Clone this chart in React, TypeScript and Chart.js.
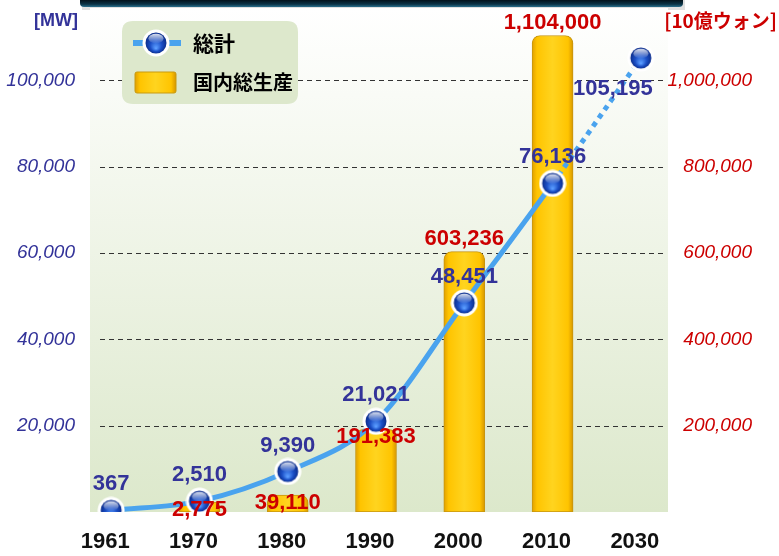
import React, { useEffect, useRef } from 'react';
import { Chart, registerables } from 'chart.js';

Chart.register(...registerables);

// ---- data ----
const years = ['1961', '1970', '1980', '1990', '2000', '2010', '2030'];
const capacityMW = [367, 2510, 9390, 21021, 48451, 76136, 105195];
const gdpBillionWon: (number | null)[] = [null, 2775, 39110, 191383, 603236, 1104000, null];
const leftTicks = [20000, 40000, 60000, 80000, 100000];
const rightTicks = [200000, 400000, 600000, 800000, 1000000];
const seriesNames = ['総計', '国内総生産'];
const unitLeft = '[MW]';
const unitRight = '[10億ウォン]';

// label placement (style only)
const lineLabelPlace = ['above', 'above', 'above', 'above', 'above', 'above', 'belowLeft'];
const barLabelPlace = ['none', 'inside', 'inside', 'inside', 'above', 'above', 'none'];

const BLUE_TXT = '#333399';
const RED_TXT = '#cc0000';
const LINE_COLOR = '#4aa3ee';
const LATIN = '"Liberation Sans", Arial, sans-serif';
const CJK = '"Noto Sans CJK JP", "Noto Sans", sans-serif';

function makeSphere(): HTMLCanvasElement {
  const size = 28;
  const R = 13.5;
  const c = document.createElement('canvas');
  c.width = size;
  c.height = size;
  const g = c.getContext('2d')!;
  const cx = size / 2, cy = size / 2;
  g.beginPath();
  g.arc(cx, cy, R, 0, Math.PI * 2);
  g.fillStyle = '#ffffff';
  g.fill();
  const r = R - 3;
  const rg = g.createRadialGradient(cx, cy + r * 0.5, r * 0.05, cx, cy, r * 1.05);
  rg.addColorStop(0, '#5a9cff');
  rg.addColorStop(0.5, '#1b4fc6');
  rg.addColorStop(1, '#0a2a86');
  g.beginPath();
  g.arc(cx, cy, r, 0, Math.PI * 2);
  g.fillStyle = rg;
  g.fill();
  const lg = g.createLinearGradient(0, cy - r, 0, cy);
  lg.addColorStop(0, 'rgba(255,255,255,0.95)');
  lg.addColorStop(1, 'rgba(255,255,255,0.05)');
  g.beginPath();
  g.ellipse(cx, cy - r * 0.42, r * 0.72, r * 0.46, 0, 0, Math.PI * 2);
  g.fillStyle = lg;
  g.fill();
  return c;
}

function goldGradient(ctx: CanvasRenderingContext2D, x0: number, x1: number) {
  const g = ctx.createLinearGradient(x0, 0, x1, 0);
  g.addColorStop(0, '#e0a000');
  g.addColorStop(0.12, '#ffc400');
  g.addColorStop(0.5, '#ffd41f');
  g.addColorStop(0.88, '#ffc400');
  g.addColorStop(1, '#d69600');
  return g;
}

function roundRect(ctx: CanvasRenderingContext2D, x: number, y: number, w: number, h: number, r: number) {
  ctx.beginPath();
  ctx.moveTo(x + r, y);
  ctx.lineTo(x + w - r, y);
  ctx.quadraticCurveTo(x + w, y, x + w, y + r);
  ctx.lineTo(x + w, y + h - r);
  ctx.quadraticCurveTo(x + w, y + h, x + w - r, y + h);
  ctx.lineTo(x + r, y + h);
  ctx.quadraticCurveTo(x, y + h, x, y + h - r);
  ctx.lineTo(x, y + r);
  ctx.quadraticCurveTo(x, y, x + r, y);
  ctx.closePath();
}

// let tick labels overflow their axis box (no clipping)
function unclipLabels(s: any) {
  s._computeLabelArea = () => undefined;
}

export default function App() {
  const ref = useRef<HTMLCanvasElement | null>(null);

  useEffect(() => {
    const canvas = ref.current;
    if (!canvas) return;
    const sphere = makeSphere();

    const decor = {
      id: 'decor',
      beforeDraw(chart: any) {
        const { ctx, chartArea: a } = chart;
        ctx.save();
        // top banner (cropped title bar)
        const bx0 = 80, bx1 = 683;
        const bg = ctx.createLinearGradient(0, 0, 0, 7);
        bg.addColorStop(0, '#02111a');
        bg.addColorStop(0.6, '#0b3346');
        bg.addColorStop(1, '#2a6f8c');
        ctx.fillStyle = 'rgba(0,0,0,0.12)';
        ctx.fillRect(bx0 + 2, 0, bx1 - bx0, 10);
        ctx.fillStyle = bg;
        roundRect(ctx, bx0, -6, bx1 - bx0, 13, 4);
        ctx.fill();
        // plot panel
        const px0 = a.left + 23, px1 = a.right - 17, py0 = a.top - 12, py1 = a.bottom;
        const pg = ctx.createLinearGradient(0, py0, 0, py1);
        pg.addColorStop(0, '#ffffff');
        pg.addColorStop(1, '#dce8cb');
        ctx.fillStyle = pg;
        ctx.fillRect(px0, py0, px1 - px0, py1 - py0);
        // grid lines
        const ys = chart.scales.y;
        ctx.strokeStyle = '#333333';
        ctx.lineWidth = 1;
        ctx.setLineDash([5, 4]);
        leftTicks.forEach((t) => {
          const yy = Math.round(ys.getPixelForValue(t)) + 0.5;
          ctx.beginPath();
          ctx.moveTo(a.left + 33, yy);
          ctx.lineTo(a.right - 20, yy);
          ctx.stroke();
        });
        ctx.restore();
      },
      afterDatasetsDraw(chart: any) {
        const ctx = chart.ctx;
        const lineMeta = chart.getDatasetMeta(0);
        const barMeta = chart.getDatasetMeta(1);
        ctx.save();
        ctx.font = 'bold 22px ' + LATIN;
        ctx.textAlign = 'center';
        ctx.textBaseline = 'middle';
        ctx.fillStyle = RED_TXT;
        gdpBillionWon.forEach((v, i) => {
          if (v == null) return;
          const el = barMeta.data[i];
          const y = barLabelPlace[i] === 'above' ? el.y - 13 : el.y + 8;
          ctx.fillText(v.toLocaleString('en-US'), el.x, y);
        });
        ctx.fillStyle = BLUE_TXT;
        capacityMW.forEach((v, i) => {
          const el = lineMeta.data[i];
          let x = el.x, y = el.y - 26;
          if (lineLabelPlace[i] === 'belowLeft') {
            x -= 28;
            y = el.y + 31;
          }
          ctx.fillText(v.toLocaleString('en-US'), x, y);
        });
        ctx.restore();
      },
      afterDraw(chart: any) {
        const { ctx, chartArea: a } = chart;
        ctx.save();
        // units
        ctx.textBaseline = 'middle';
        ctx.textAlign = 'right';
        ctx.font = 'bold 18px ' + LATIN;
        ctx.fillStyle = BLUE_TXT;
        ctx.fillText(unitLeft, a.left + 11, a.top + 1);
        ctx.font = 'bold 19px ' + CJK;
        ctx.fillStyle = RED_TXT;
        ctx.fillText(unitRight, chart.width - 2, a.top + 1);
        // legend
        const lx = a.left + 55, ly = a.top + 1;
        ctx.fillStyle = '#dde8cc';
        roundRect(ctx, lx, ly, 176, 83, 11);
        ctx.fill();
        ctx.strokeStyle = LINE_COLOR;
        ctx.lineWidth = 6;
        ctx.beginPath();
        ctx.moveTo(lx + 11, ly + 22);
        ctx.lineTo(lx + 59, ly + 22);
        ctx.stroke();
        ctx.drawImage(sphere, lx + 34 - 14, ly + 22 - 14);
        ctx.fillStyle = goldGradient(ctx, lx + 13, lx + 54);
        roundRect(ctx, lx + 13, ly + 51, 41, 21, 2);
        ctx.fill();
        ctx.strokeStyle = '#c89a10';
        ctx.lineWidth = 1;
        ctx.stroke();
        ctx.fillStyle = '#000000';
        ctx.textAlign = 'left';
        ctx.font = 'bold 21px ' + CJK;
        ctx.fillText(seriesNames[0], lx + 71, ly + 22);
        ctx.font = 'bold 20px ' + CJK;
        ctx.fillText(seriesNames[1], lx + 71, ly + 61);
        ctx.restore();
      },
    };

    const chart = new Chart(canvas, {
      type: 'bar',
      data: {
        labels: years,
        datasets: [
          {
            type: 'line',
            label: seriesNames[0],
            data: capacityMW,
            yAxisID: 'y',
            borderColor: LINE_COLOR,
            borderWidth: 5,
            pointStyle: sphere as any,
            pointRadius: 14,
            cubicInterpolationMode: 'monotone',
            segment: {
              borderDash: (s: any) => (s.p1DataIndex === years.length - 1 ? [5, 5] : undefined),
            },
            order: 0,
          } as any,
          {
            type: 'bar',
            label: seriesNames[1],
            data: gdpBillionWon,
            yAxisID: 'y1',
            barThickness: 41,
            minBarLength: 10,
            backgroundColor: (c: any) => {
              const ch = c.chart;
              if (c.type !== 'data' || !ch.chartArea) return '#ffc800';
              const x = ch.scales.x.getPixelForValue(c.dataIndex);
              return goldGradient(ch.ctx, x - 20.5, x + 20.5);
            },
            borderColor: '#c69510',
            borderWidth: 1,
            borderSkipped: false,
            borderRadius: { topLeft: 8, topRight: 8, bottomLeft: 0, bottomRight: 0 },
            order: 1,
          } as any,
        ],
      },
      options: {
        animation: false,
        responsive: false,
        maintainAspectRatio: false,
        layout: { padding: { top: 20, right: 27, left: 0, bottom: 0 } },
        plugins: { legend: { display: false }, tooltip: { enabled: false } },
        scales: {
          x: {
            offset: true,
            grid: { display: false, drawTicks: false },
            border: { display: false },
            ticks: {
              color: '#111111',
              padding: 17,
              labelOffset: -6,
              font: { family: LATIN, size: 22, weight: 'bold' },
            },
            afterFit: (s: any) => { s.height = 44; unclipLabels(s); },
          },
          y: {
            position: 'left',
            min: 0,
            max: 114000,
            grid: { display: false, drawTicks: false },
            border: { display: false },
            ticks: {
              padding: -8,
              color: BLUE_TXT,
              font: { family: LATIN, size: 19, style: 'italic' },
              callback: (v: any) => Number(v).toLocaleString('en-US'),
            },
            afterBuildTicks: (s: any) => { s.ticks = leftTicks.map((v) => ({ value: v })); },
            afterFit: (s: any) => { s.width = 67; unclipLabels(s); },
          },
          y1: {
            position: 'right',
            min: 0,
            max: 1140000,
            grid: { display: false, drawTicks: false },
            border: { display: false },
            ticks: {
              crossAlign: 'far',
              color: RED_TXT,
              font: { family: LATIN, size: 19, style: 'italic' },
              callback: (v: any) => Number(v).toLocaleString('en-US'),
            },
            afterBuildTicks: (s: any) => { s.ticks = rightTicks.map((v) => ({ value: v })); },
            afterFit: (s: any) => { s.width = 67; unclipLabels(s); },
          },
        } as any,
      },
      plugins: [decor as any],
    });
    return () => chart.destroy();
  }, []);

  return (
    <div style={{ position: 'fixed', left: 0, top: 0, width: 779, height: 556, background: '#ffffff' }}>
      <canvas ref={ref} width={779} height={556} style={{ display: 'block', width: 779, height: 556 }} />
    </div>
  );
}
